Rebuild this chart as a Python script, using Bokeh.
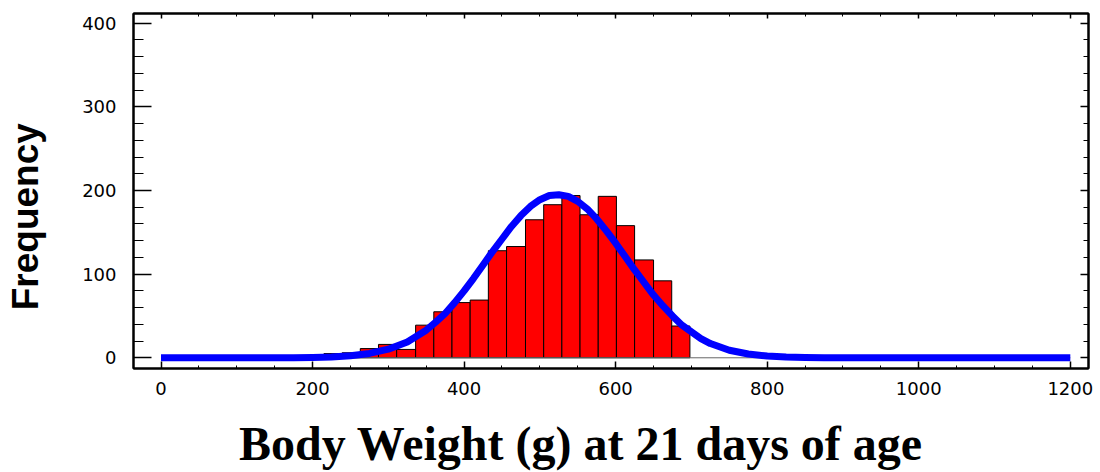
from bokeh.plotting import figure
from bokeh.models import LinearAxis, SingleIntervalTicker, Range1d
from bokeh.embed import file_html
from bokeh.resources import INLINE

# ---- data ----
bin_edges = [215, 239, 263, 287, 311, 336, 360, 384, 408, 432, 456,
             481, 505, 529, 553, 577, 601, 625, 650, 674, 698]
counts = [5, 6, 11, 16, 10, 39, 55, 66, 69, 128, 133,
          165, 183, 194, 171, 193, 158, 117, 92, 38]

curve_x = [0, 25, 50, 75, 100, 125, 150, 175, 200, 225, 250, 275, 300, 325,
           350, 362.5, 375, 387.5, 400, 412.5, 425, 437.5, 450, 462.5, 475,
           487.5, 500, 512.5, 525, 537.5, 550, 562.5, 575, 587.5, 600, 612.5,
           625, 637.5, 650, 662.5, 675, 687.5, 700, 712.5, 725, 750, 775, 800,
           825, 850, 875, 900, 925, 950, 975, 1000, 1025, 1050, 1075, 1100,
           1125, 1150, 1175, 1200]
curve_y = [0, 0, 0, 0, 0, 0, 0, 0.1, 0.4, 1.0, 2.4, 5.2, 10.3, 19,
           33, 42.6, 53, 66, 80, 95, 111, 127, 142, 157, 170,
           181, 189, 194, 195, 193, 187, 178, 166, 152, 137, 121,
           105, 90, 75, 62, 50, 39, 31, 23, 17, 9, 4.6, 2.1,
           0.9, 0.4, 0.1, 0, 0, 0, 0, 0, 0, 0, 0, 0,
           0, 0, 0, 0]

x_title = "Body Weight (g) at 21 days of age"
y_title = "Frequency"
PAD = "\u00a0" * 5   # shifts the centred titles like the reference

p = figure(frame_width=955, frame_height=355,
           x_range=Range1d(-36.3, 1224), y_range=Range1d(-12.8, 411.6),
           output_backend="svg", toolbar_location=None,
           min_border_left=133, min_border_right=12,
           min_border_top=13, min_border_bottom=104)
p.grid.visible = False
p.background_fill_color = "white"
p.border_fill_color = "white"
p.outline_line_color = "black"
p.outline_line_width = 2

xa = p.xaxis[0]
xa.ticker = SingleIntervalTicker(interval=200, num_minor_ticks=4)
ya = p.yaxis[0]
ya.ticker = SingleIntervalTicker(interval=100, num_minor_ticks=5)
for ax in (xa, ya):
    ax.axis_line_color = "black"
    ax.axis_line_width = 2
    ax.major_tick_line_color = "black"
    ax.minor_tick_line_color = "black"
    ax.major_tick_line_width = 1.5
    ax.minor_tick_line_width = 1
    ax.major_tick_out = 0
    ax.minor_tick_out = 0
    ax.major_label_text_font = "DejaVu Sans"
    ax.major_label_text_font_size = "18px"
    ax.major_label_text_color = "black"
    ax.axis_label_text_color = "black"
    ax.axis_label_text_font_style = "bold"
ya.major_tick_in = 18
ya.minor_tick_in = 10
ya.major_label_standoff = 17
xa.major_tick_in = 7
xa.minor_tick_in = 3
xa.major_label_standoff = 13

xa.axis_label = x_title + PAD
xa.axis_label_text_font = "Liberation Serif"
xa.axis_label_text_font_size = "48px"
xa.axis_label_standoff = 19

ya.axis_label = y_title + PAD
ya.axis_label_text_font = "Liberation Sans"
ya.axis_label_text_font_size = "37px"
ya.axis_label_standoff = 33

top = LinearAxis(ticker=SingleIntervalTicker(interval=200, num_minor_ticks=4))
right = LinearAxis(ticker=SingleIntervalTicker(interval=100, num_minor_ticks=5))
for ax, mi, mn in ((top, 5, 3), (right, 8, 5)):
    ax.major_label_text_font_size = "0px"
    ax.major_label_standoff = 0
    ax.axis_line_color = "black"
    ax.axis_line_width = 2
    ax.major_tick_out = 0
    ax.minor_tick_out = 0
    ax.major_tick_in = mi
    ax.minor_tick_in = mn
    ax.major_tick_line_color = "black"
    ax.minor_tick_line_color = "black"
    ax.major_tick_line_width = 1.5
p.add_layout(top, "above")
p.add_layout(right, "right")

p.quad(left=bin_edges[:-1], right=bin_edges[1:], bottom=0, top=counts,
       fill_color="#FF0000", line_color="black", line_width=1)
p.segment(x0=[curve_x[0]], y0=[0], x1=[curve_x[-1]], y1=[0],
          line_color="#666666", line_width=1)
p.line(curve_x, curve_y, line_color="#0000FF", line_width=7, line_cap="butt",
       line_join="round")

open("out.html", "w").write(file_html(p, INLINE))
